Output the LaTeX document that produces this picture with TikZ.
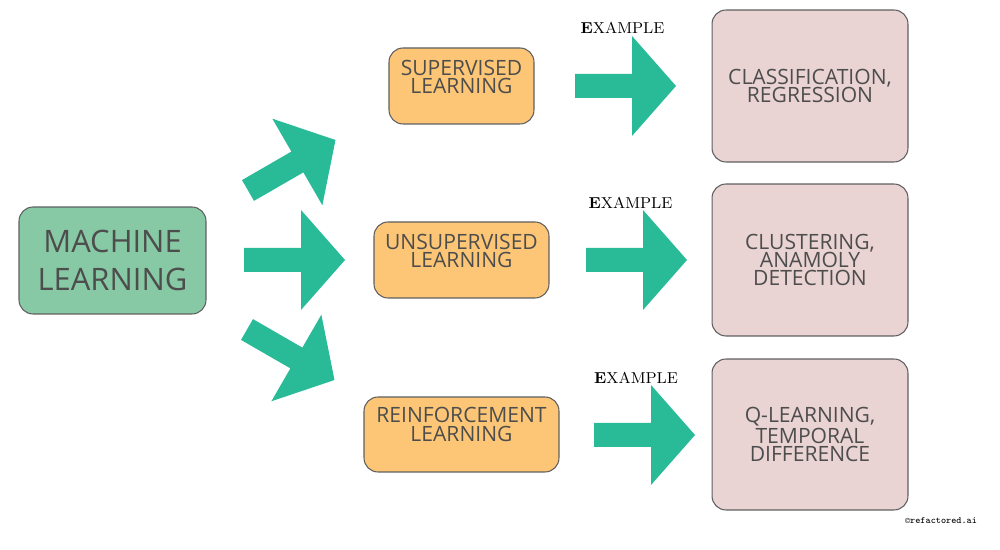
\documentclass[tikz,border=0pt]{standalone}
\usepackage{fontspec}
\newfontfamily\boxfont{Open Sans}
\usepackage{amssymb}

\definecolor{mlgreen}{RGB}{134,201,164}
\definecolor{suborange}{RGB}{252,198,118}
\definecolor{expink}{RGB}{234,211,211}
\definecolor{arrowgreen}{RGB}{41,187,152}
\definecolor{boxline}{RGB}{95,95,95}
\definecolor{labelgray}{RGB}{77,77,77}

\tikzset{
  box/.style={rectangle, draw=boxline, line width=0.6pt, rounded corners=0.28cm},
  boxlabel/.style={text=labelgray, align=center, inner sep=0pt,
                   font=\boxfont\fontsize{12}{10.5}\selectfont},
  exlabel/.style={inner sep=0pt, font=\fontsize{9}{10}\selectfont},
  fatarrow/.pic={\fill[arrowgreen] (0,-12) -- (57,-12) -- (57,-50) -- (101,0)
                 -- (57,50) -- (57,12) -- (0,12) -- cycle;}
}

\begin{document}
\begin{tikzpicture}[x=0.02cm,y=0.02cm]

    \useasboundingbox (0,0) rectangle (1000,550);

    % main node
    \node[box,
          fill = mlgreen,
          minimum width = 3.74cm,
          minimum height = 2.14cm
          ] (ml) at (112.5,289.5) {};
    \node[boxlabel, font=\boxfont\fontsize{17.6}{21.5}\selectfont] (mllab) at (ml.center) {MACHINE\\LEARNING};

    % kinds of learning
    \node[box,
          fill = suborange,
          minimum width = 2.9cm,
          minimum height = 1.52cm
          ] (sup) at (461.5,464) {};
    \node[boxlabel] (suplab) at ([yshift=0.18cm]sup.center) {SUPERVISED\\LEARNING};

    \node[box,
          fill = suborange,
          minimum width = 3.5cm,
          minimum height = 1.52cm
          ] (unsup) at (461.5,290) {};
    \node[boxlabel] (unsuplab) at ([yshift=0.18cm]unsup.center) {UNSUPERVISED\\LEARNING};

    \node[box,
          fill = suborange,
          minimum width = 3.9cm,
          minimum height = 1.5cm
          ] (reinf) at (461.5,115.5) {};
    \node[boxlabel] (reinflab) at ([yshift=0.2cm]reinf.center) {REINFORCEMENT\\LEARNING};

    % examples
    \node[box,
          fill = expink,
          minimum width = 3.92cm,
          minimum height = 3.04cm
          ] (cls) at (810,464) {};
    \node[boxlabel] (clslab) at (cls.center) {CLASSIFICATION,\\REGRESSION};

    \node[box,
          fill = expink,
          minimum width = 3.92cm,
          minimum height = 3.04cm
          ] (clu) at (810,290) {};
    \node[boxlabel] (clulab) at (clu.center) {CLUSTERING,\\ANAMOLY\\DETECTION};

    \node[box,
          fill = expink,
          minimum width = 3.92cm,
          minimum height = 3.02cm
          ] (ql) at (810,115.5) {};
    \node[boxlabel] (qllab) at (ql.center) {Q-LEARNING,\\TEMPORAL\\DIFFERENCE};

    \node[exlabel] (ex1) at (622.5,522) {\textbf{E}XAMPLE};
    \node[exlabel] (ex2) at (630.5,347) {\textbf{E}XAMPLE};
    \node[exlabel] (ex3) at (636,172) {\textbf{E}XAMPLE};

    % big arrows
    \pic[rotate=30] at (248,359.5) {fatarrow};
    \pic at (244,290) {fatarrow};
    \pic[rotate=-30] at (247,220.5) {fatarrow};

    \pic at (575,464) {fatarrow};
    \pic at (586,290) {fatarrow};
    \pic at (594,115) {fatarrow};

    \node[inner sep=0pt, font=\ttfamily\fontsize{5.5}{6}\selectfont] (copy) at (941,29) {\textcopyright refactored.ai};

\end{tikzpicture}
\end{document}
